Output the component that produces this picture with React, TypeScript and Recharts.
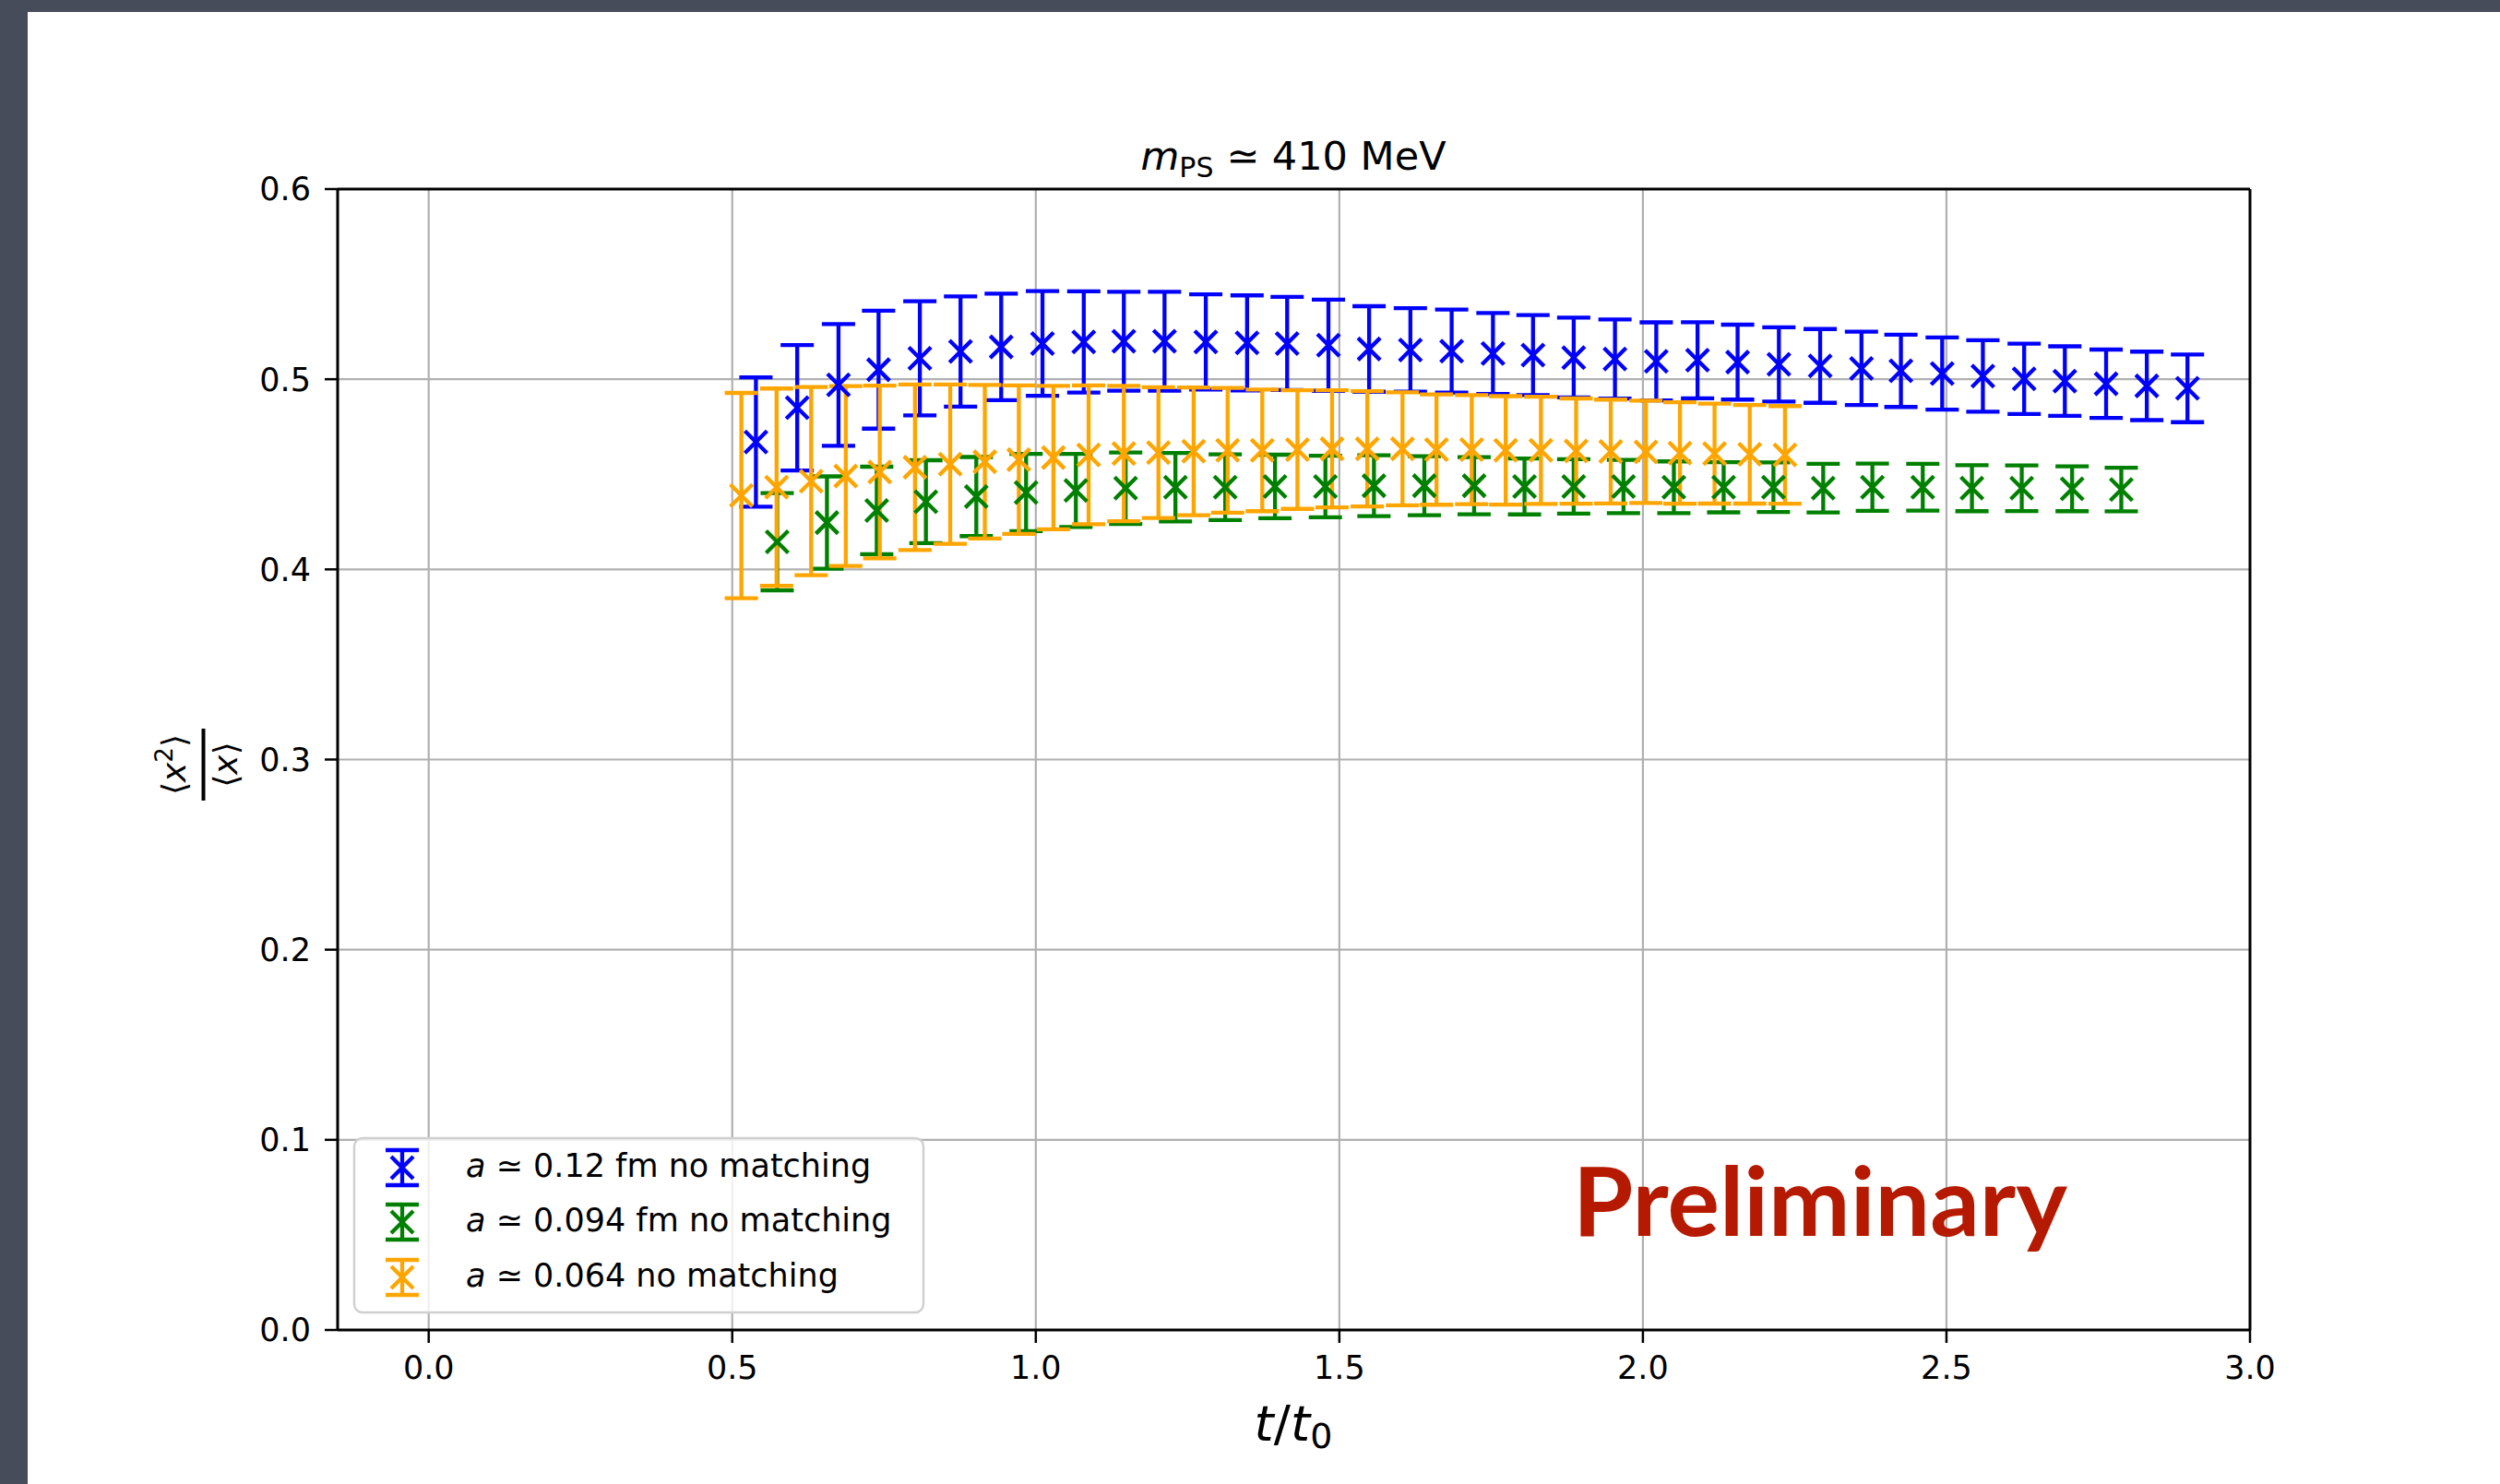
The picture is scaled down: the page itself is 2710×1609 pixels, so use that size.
import { ScatterChart, Scatter, XAxis, YAxis, CartesianGrid, ErrorBar, ReferenceLine } from 'recharts';

const W = 2710;
const H = 1609;
const FONT = "'DejaVu Sans', sans-serif";

// a ≃ 0.12 fm, no matching
const blueT = [0.539, 0.607, 0.675, 0.741, 0.809, 0.876, 0.943, 1.011, 1.079, 1.145, 1.212, 1.28,
  1.348, 1.414, 1.482, 1.549, 1.617, 1.685, 1.753, 1.819, 1.886, 1.954, 2.022, 2.09,
  2.156, 2.224, 2.292, 2.36, 2.425, 2.493, 2.56, 2.628, 2.695, 2.763, 2.83, 2.897];
const blueY = [0.467, 0.485, 0.497, 0.505, 0.511, 0.5146, 0.517, 0.5188, 0.5196, 0.52, 0.52, 0.5196,
  0.5191, 0.5188, 0.5179, 0.5159, 0.5154, 0.5148, 0.5135, 0.5127, 0.5114, 0.5106, 0.5094, 0.51,
  0.509, 0.5078, 0.507, 0.5057, 0.5044, 0.503, 0.5017, 0.5002, 0.499, 0.4976, 0.4965, 0.4952];
const blueErr = [0.034, 0.033, 0.032, 0.031, 0.03, 0.029, 0.028, 0.0275, 0.0266, 0.026, 0.026, 0.025,
  0.025, 0.0245, 0.024, 0.0225, 0.022, 0.0218, 0.0213, 0.021, 0.021, 0.0208, 0.0205, 0.02,
  0.0197, 0.0195, 0.0194, 0.0193, 0.019, 0.019, 0.0188, 0.0185, 0.0183, 0.018, 0.018, 0.0178];

// a ≃ 0.094 fm, no matching
const greenT = [0.574, 0.656, 0.738, 0.819, 0.902, 0.984, 1.066, 1.148, 1.23, 1.312, 1.394, 1.477,
  1.557, 1.64, 1.722, 1.805, 1.886, 1.968, 2.051, 2.133, 2.215, 2.297, 2.378, 2.461,
  2.542, 2.624, 2.707, 2.788];
const greenY = [0.4145, 0.4246, 0.431, 0.4356, 0.4383, 0.4404, 0.4415, 0.4427, 0.4432, 0.4432, 0.4436, 0.4436,
  0.444, 0.444, 0.444, 0.4436, 0.4436, 0.4436, 0.4432, 0.4432, 0.4432, 0.4427, 0.4432, 0.4432,
  0.4427, 0.4427, 0.4424, 0.442];
const greenErr = [0.0256, 0.0243, 0.023, 0.0218, 0.0208, 0.0203, 0.0192, 0.0188, 0.018, 0.0173, 0.0167, 0.0162,
  0.016, 0.0155, 0.015, 0.0147, 0.0143, 0.014, 0.0136, 0.0132, 0.013, 0.0128, 0.0124, 0.0123,
  0.0121, 0.012, 0.0118, 0.0115];

// a ≃ 0.064, no matching
const orangeT = [0.515, 0.573, 0.63, 0.687, 0.743, 0.801, 0.859, 0.916, 0.972, 1.029, 1.087, 1.145,
  1.202, 1.26, 1.316, 1.373, 1.431, 1.488, 1.546, 1.604, 1.66, 1.718, 1.774, 1.832,
  1.89, 1.947, 2.005, 2.061, 2.118, 2.176, 2.234];
const orangeY = [0.4388, 0.4432, 0.4464, 0.4491, 0.4512, 0.4537, 0.4553, 0.4566, 0.4577, 0.4588, 0.4602, 0.4609,
  0.4614, 0.4621, 0.4626, 0.4626, 0.463, 0.4634, 0.4634, 0.4634, 0.463, 0.463, 0.4626, 0.4626,
  0.4622, 0.462, 0.4618, 0.4612, 0.4609, 0.4605, 0.4602];
const orangeErr = [0.054, 0.0519, 0.0495, 0.0473, 0.0454, 0.0435, 0.0419, 0.0404, 0.039, 0.0377, 0.0365, 0.0356,
  0.0344, 0.0336, 0.0328, 0.032, 0.0312, 0.0308, 0.0303, 0.0297, 0.029, 0.0287, 0.0285, 0.0282,
  0.0277, 0.0273, 0.0269, 0.0267, 0.0263, 0.0259, 0.0257];

const xTicks = [0, 0.5, 1, 1.5, 2, 2.5, 3];
const yTicks = [0, 0.1, 0.2, 0.3, 0.4, 0.5, 0.6];

const toRows = (t: number[], y: number[], err: number[]) =>
  t.map((tv, i) => ({ t: tv, y: y[i], err: err[i] }));

const series = [
  { key: 'blue', color: '#0000ff', label: '0.12 fm no matching', data: toRows(blueT, blueY, blueErr) },
  { key: 'green', color: '#008000', label: '0.094 fm no matching', data: toRows(greenT, greenY, greenErr) },
  { key: 'orange', color: '#ffa500', label: '0.064 no matching', data: toRows(orangeT, orangeY, orangeErr) },
];

const LW = 4.3;

const xMarker = (color: string) => (props: any) => {
  const { cx, cy } = props;
  const s = 12;
  return (
    <g>
      <line x1={cx - s} y1={cy - s} x2={cx + s} y2={cy + s} stroke={color} strokeWidth={LW} />
      <line x1={cx - s} y1={cy + s} x2={cx + s} y2={cy - s} stroke={color} strokeWidth={LW} />
    </g>
  );
};

const tickStyle = { fontSize: 35, fill: '#000', fontFamily: FONT };

function Overlay() {
  const rows = [1263, 1322, 1382];
  return (
    <svg width={W} height={H} style={{ position: 'absolute', left: 0, top: 0, pointerEvents: 'none' }}>
      {/* title */}
      <text x={1402} y={184} textAnchor="middle" fontSize={43} fontFamily={FONT} fill="#000">
        <tspan fontStyle="italic">m</tspan>
        <tspan fontSize={30} dy={8}>PS</tspan>
        <tspan dy={-8}> ≃ 410 MeV</tspan>
      </text>
      {/* y label: <x^2>/<x> */}
      <g transform="translate(220.5, 829) rotate(-90)" fontFamily={FONT} fontSize={36} fill="#000">
        <text x={0} y={-20} textAnchor="middle">
          <tspan>⟨</tspan>
          <tspan fontStyle="italic">x</tspan>
          <tspan fontSize={26} dy={-14}>2</tspan>
          <tspan dy={14}>⟩</tspan>
        </text>
        <line x1={-39} y1={0} x2={39} y2={0} stroke="#000" strokeWidth={4} />
        <text x={0} y={36} textAnchor="middle">
          <tspan>⟨</tspan>
          <tspan fontStyle="italic">x</tspan>
          <tspan>⟩</tspan>
        </text>
      </g>
      {/* x label */}
      <text x={1402} y={1562} textAnchor="middle" fontSize={54} fontFamily={FONT} fill="#000">
        <tspan fontStyle="italic">t</tspan>
        <tspan>/</tspan>
        <tspan fontStyle="italic">t</tspan>
        <tspan fontSize={38} dy={8}>0</tspan>
      </text>
      {/* watermark */}
      <text x={1705} y={1340} fontSize={104} textLength={536} lengthAdjust="spacingAndGlyphs"
        fontFamily="'Comic Sans MS', 'Lato', sans-serif" fontWeight={700} fill="#b51a00">
        Preliminary
      </text>
      {/* legend */}
      <rect x={384} y={1234} width={617} height={189} rx={9} fill="#fff" fillOpacity={0.8}
        stroke="#d0d0d0" strokeWidth={2.5} />
      {series.map((s, i) => {
        const cy = rows[i] + 3;
        return (
          <g key={s.key}>
            <line x1={436} y1={cy - 19} x2={436} y2={cy + 19} stroke={s.color} strokeWidth={LW} />
            <line x1={418} y1={cy - 19} x2={454} y2={cy - 19} stroke={s.color} strokeWidth={LW} />
            <line x1={418} y1={cy + 19} x2={454} y2={cy + 19} stroke={s.color} strokeWidth={LW} />
            {xMarker(s.color)({ cx: 436, cy })}
            <text x={505} y={rows[i] + 13} fontSize={35} fontFamily={FONT} fill="#000">
              <tspan fontStyle="italic">a</tspan>
              <tspan> ≃ {s.label}</tspan>
            </text>
          </g>
        );
      })}
    </svg>
  );
}

export default function App() {
  return (
    <div style={{ position: 'absolute', left: 0, top: 0, width: W, height: H, background: '#474c5a', overflow: 'hidden' }}>
      <div style={{ position: 'absolute', left: 30, top: 13, right: 0, bottom: 0, background: '#fff' }} />
      <div style={{ position: 'absolute', left: 0, top: 0 }}>
        <ScatterChart width={W} height={H} margin={{ top: 205, right: 271, bottom: 67, left: 266 }}>
          <CartesianGrid stroke="#b0b0b0" strokeWidth={2.2} />
          <XAxis
            type="number"
            dataKey="t"
            domain={[-0.15, 3]}
            ticks={xTicks}
            allowDataOverflow
            height={100}
            tickFormatter={(v: number) => v.toFixed(1)}
            tick={tickStyle}
            tickSize={14}
            tickMargin={14}
            tickLine={{ stroke: '#000', strokeWidth: 2.5 }}
            axisLine={{ stroke: '#000', strokeWidth: 3 }}
          />
          <YAxis
            type="number"
            dataKey="y"
            domain={[0, 0.6]}
            ticks={yTicks}
            allowDataOverflow
            width={100}
            tickFormatter={(v: number) => v.toFixed(1)}
            tick={tickStyle}
            tickSize={14}
            tickMargin={15}
            tickLine={{ stroke: '#000', strokeWidth: 2.5 }}
            axisLine={{ stroke: '#000', strokeWidth: 3 }}
          />
          <ReferenceLine y={0.6} stroke="#000" strokeWidth={3} />
          <ReferenceLine x={3} stroke="#000" strokeWidth={3} />
          {series.map((s) => (
            <Scatter key={s.key} name={s.label} data={s.data} shape={xMarker(s.color)} isAnimationActive={false}>
              <ErrorBar dataKey="err" direction="y" width={18} stroke={s.color} strokeWidth={LW} isAnimationActive={false} />
            </Scatter>
          ))}
        </ScatterChart>
      </div>
      <Overlay />
    </div>
  );
}
